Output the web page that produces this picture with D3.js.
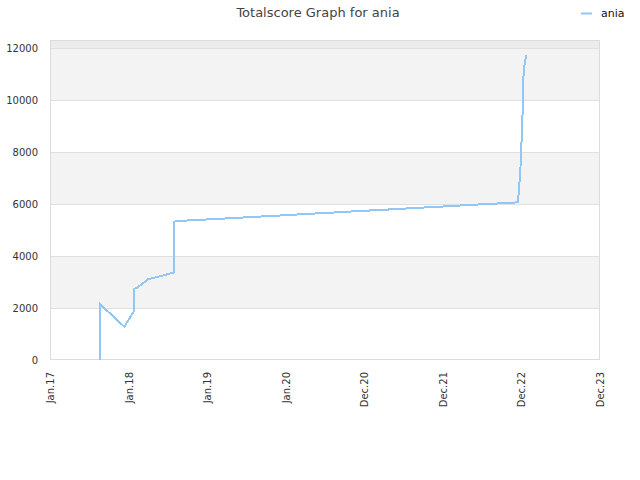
<!DOCTYPE html>
<html><head><meta charset="utf-8">
<script src="https://cdn.jsdelivr.net/npm/d3@7"></script>
<style>body{margin:0;background:#fff}svg{display:block}text{font-family:"DejaVu Sans",sans-serif}</style>
</head><body><svg id="c" width="640" height="480"></svg>
<script>
const title = "Totalscore Graph for ania";
const seriesName = "ania";
const xTickLabels = ["Jan.17","Jan.18","Jan.19","Jan.20","Dec.20","Dec.21","Dec.22","Dec.23"];
const yTicks = [0,2000,4000,6000,8000,10000,12000];
// x positions measured along the label axis (0 = first label, 7 = last)
const xPos = [0.640,0.640,0.946,1.065,1.065,1.116,1.247,1.572,1.572,1.697,1.932,2.164,2.393,2.622,2.851,3.080,3.309,3.538,3.767,4.004,4.233,4.462,4.691,4.920,5.153,5.378,5.607,5.840,5.958,5.964,5.985,6.002,6.015,6.022,6.030,6.047,6.060];
const scores = [0,2140,1280,1860,2720,2795,3100,3360,5320,5357,5395,5430,5470,5510,5545,5585,5625,5660,5700,5740,5775,5815,5855,5890,5930,5970,6005,6045,6065,6410,7180,8460,9500,10640,11150,11500,11730];

const svg = d3.select("#c");
const L=50,R=600,T=40,B=360;
const x = d3.scaleLinear().domain([0,xTickLabels.length-1]).range([L,R]);
const y = d3.scaleLinear().domain([0,12000]).range([B,48]);

// bands
const bands = d3.range(0,12000,2000);
svg.selectAll("rect.band").data(bands).join("rect")
  .attr("x",L).attr("width",R-L)
  .attr("y",d=>y(d+2000)).attr("height",d=>y(d)-y(d+2000))
  .attr("fill",(d,i)=>i%2?"#f3f3f3":"#ffffff");
svg.append("rect").attr("x",L).attr("width",R-L).attr("y",T).attr("height",y(12000)-T).attr("fill","#ececec");

// gridlines
svg.selectAll("line.grid").data(yTicks.slice(1)).join("line")
  .attr("x1",L).attr("x2",R).attr("y1",d=>Math.round(y(d))+0.5).attr("y2",d=>Math.round(y(d))+0.5)
  .attr("stroke","#e0e0e0");
// frame
svg.append("rect").attr("x",L+0.5).attr("y",T+0.5).attr("width",R-L-1).attr("height",B-T-1)
  .attr("fill","none").attr("stroke","#dcdcdc");

// y axis labels
const yAxis = d3.axisLeft(y).tickValues(yTicks).tickSize(0).tickPadding(12).tickFormat(d3.format("d"));
const ga = svg.append("g").attr("transform",`translate(${L},0)`).call(yAxis);
ga.select(".domain").remove();
ga.selectAll("text").attr("font-size",10).attr("fill","#333").attr("font-family","DejaVu Sans");

// x axis labels
const xAxis = d3.axisBottom(x).tickValues(d3.range(xTickLabels.length)).tickSize(0).tickFormat(i=>xTickLabels[i]);
const gx = svg.append("g").attr("transform",`translate(0,${B})`).call(xAxis);
gx.select(".domain").remove();
gx.selectAll("text").attr("font-size",10).attr("fill","#333").attr("font-family","DejaVu Sans")
  .attr("text-anchor","end").attr("transform","rotate(-90)").attr("x",-12).attr("y",0).attr("dy","0.35em");

// line
const data = xPos.map((v,i)=>[v,scores[i]]);
svg.append("path").datum(data)
  .attr("d",d3.line().x(d=>x(d[0])).y(d=>y(d[1])))
  .attr("fill","none").attr("stroke","#94c6f3").attr("stroke-width",2)
  .attr("shape-rendering","crispEdges");

// title
svg.append("text").attr("x",318).attr("y",17).attr("text-anchor","middle")
  .attr("font-size",13).attr("fill","#444").text(title);
// legend
svg.append("line").attr("x1",581).attr("x2",592).attr("y1",13.5).attr("y2",13.5).attr("stroke","#94c6f3").attr("stroke-width",2);
svg.append("text").attr("x",601).attr("y",17).attr("font-size",11).attr("fill","#111").text(seriesName);
</script></body></html>
